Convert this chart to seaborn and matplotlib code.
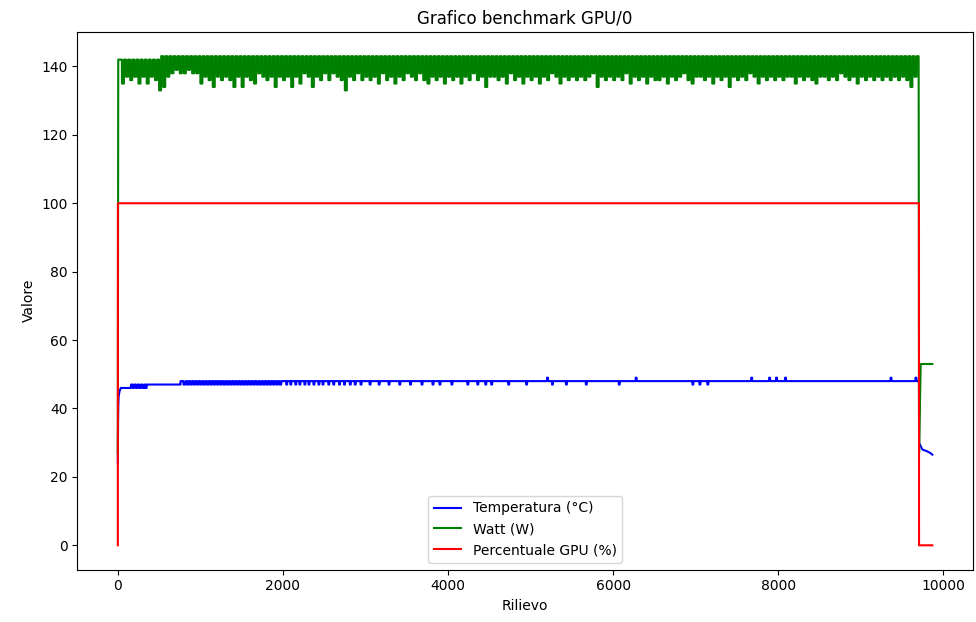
import numpy as np
import pandas as pd
import matplotlib
matplotlib.use('Agg')
import matplotlib.pyplot as plt
import seaborn as sns

plt.rcParams['path.simplify'] = False

n_rilievi = 9867
fine_test = 9705

# --- Temperatura (°C) ---
# salita iniziale (rilievo, valore)
temp_salita_x = [0, 3, 6, 10, 20, 36]
temp_salita = [24, 36, 41, 43.5, 45, 46]
# tratti costanti: inizio, fine, valore
temp_tratti_inizio = [36, 310, 335, 350, 760, 795, 2000]
temp_tratti_fine = [160, 335, 350, 760, 795, 820, 9705]
temp_tratti_val = [46, 47, 46, 47, 48, 47, 48]
# bande oscillanti, un valore ogni 20 rilievi
temp_banda1 = [47, 46, 47, 46, 47, 46, 47, 46]  # da 160
temp_banda2 = [48, 47, 48, 47, 48, 47, 48, 47, 48, 47,
               48, 47, 48, 47, 48, 47, 48, 47, 48, 47,
               48, 47, 48, 47, 48, 47, 48, 47, 48, 47,
               48, 47, 48, 47, 48, 47, 48, 47, 48, 47,
               48, 47, 48, 47, 48, 47, 48, 47, 48, 47,
               48, 47, 48, 47, 48, 47, 48, 47, 48]  # da 820
# cali a 47 e picchi a 49
temp_cali = [2040, 2090, 2150, 2200, 2260, 2310, 2370, 2430, 2480, 2550,
             2610, 2680, 2740, 2810, 2870, 2940, 3050, 3160, 3280, 3410,
             3540, 3679, 3812, 3896, 4041, 4234, 4355, 4451, 4523, 4729,
             4946, 5259, 5428, 5669, 6068, 6960, 7045, 7141]
temp_picchi = [5199, 6273, 7672, 7889, 7973, 8082, 9360, 9662]
# coda dopo il test
temp_coda_x = [9705, 9745, 9800, 9840, 9866]
temp_coda = [30, 28, 27.5, 27, 26.5]

# --- Watt (W) ---
watt_inizio_x = [0, 1, 5]
watt_inizio = [27, 53, 142]
# un valore ogni 25 rilievi, da 25 a 9699
watt = [
    142, 135, 142, 137, 142, 136, 142, 137, 142, 135, 142, 137, 142, 135, 142, 137, 142, 136, 142, 133,
    143, 134, 143, 137, 143, 138, 143, 139, 143, 138, 143, 138, 143, 139, 143, 138, 143, 138, 143, 135,
    143, 137, 143, 136, 143, 134, 143, 137, 143, 136, 143, 137, 143, 136, 143, 134, 143, 137, 143, 134,
    143, 137, 143, 136, 143, 135, 143, 138, 143, 137, 143, 136, 143, 137, 143, 134, 143, 137, 143, 136,
    143, 137, 143, 134, 143, 137, 143, 135, 143, 138, 143, 137, 143, 134, 143, 137, 143, 136, 143, 138,
    143, 136, 143, 138, 143, 137, 143, 136, 143, 133, 143, 137, 143, 136, 143, 138, 143, 136, 143, 137,
    143, 136, 143, 137, 143, 135, 143, 138, 143, 136, 143, 137, 143, 135, 143, 137, 143, 136, 143, 138,
    143, 137, 143, 136, 143, 138, 143, 136, 143, 135, 143, 137, 143, 136, 143, 137, 143, 135, 143, 137,
    143, 136, 143, 137, 143, 135, 143, 137, 143, 136, 143, 138, 143, 136, 143, 137, 143, 134, 143, 137,
    143, 137, 143, 136, 143, 137, 143, 135, 143, 138, 143, 136, 143, 137, 143, 135, 143, 137, 143, 136,
    143, 137, 143, 135, 143, 137, 143, 136, 143, 138, 143, 137, 143, 135, 143, 137, 143, 136, 143, 137,
    143, 136, 143, 137, 143, 136, 143, 137, 143, 138, 143, 134, 143, 137, 143, 136, 143, 137, 143, 136,
    143, 137, 143, 136, 143, 138, 143, 135, 143, 137, 143, 136, 143, 137, 143, 135, 143, 137, 143, 136,
    143, 136, 143, 137, 143, 135, 143, 137, 143, 136, 143, 137, 143, 138, 143, 136, 143, 135, 143, 137,
    143, 137, 143, 136, 143, 137, 143, 135, 143, 137, 143, 136, 143, 137, 143, 134, 143, 137, 143, 136,
    143, 137, 143, 136, 143, 138, 143, 137, 143, 135, 143, 137, 143, 136, 143, 137, 143, 136, 143, 137,
    143, 136, 143, 137, 143, 137, 143, 135, 143, 137, 143, 136, 143, 137, 143, 136, 143, 135, 143, 137,
    143, 137, 143, 136, 143, 137, 143, 136, 143, 138, 143, 137, 143, 136, 143, 137, 143, 135, 143, 137,
    143, 136, 143, 137, 143, 136, 143, 137, 143, 136, 143, 137, 143, 136, 143, 137, 143, 136, 143, 137,
    143, 136, 143, 134, 143, 137, 143,
]
watt_fine_x = [9700, 9705, 9725, 9866]
watt_fine = [142, 27, 53, 53]

# --- Percentuale GPU (%) ---
gpu_x = [0, 1, 9704, 9705, 9866]
gpu = [0, 100, 100, 0, 0]

# costruzione serie
temp = np.full(n_rilievi, np.nan)
temp[temp_salita_x] = temp_salita
for a, b, v in zip(temp_tratti_inizio, temp_tratti_fine, temp_tratti_val):
    temp[a:b] = v
temp[160:160 + 20 * len(temp_banda1)] = np.repeat(temp_banda1, 20)
temp[820:820 + 20 * len(temp_banda2)] = np.repeat(temp_banda2, 20)
for c in temp_cali:
    temp[c:c + 12] = 47
for p in temp_picchi:
    temp[p:p + 12] = 49
temp[temp_coda_x] = temp_coda

# ogni lettura di watt tenuta per 25 rilievi
w = np.full(n_rilievi, np.nan)
w[watt_inizio_x] = watt_inizio
w[25:25 + 25 * len(watt)] = np.repeat(watt, 25)
w[watt_fine_x] = watt_fine

g = np.full(n_rilievi, np.nan)
g[gpu_x] = gpu

df = pd.DataFrame({'Rilievo': np.arange(n_rilievi), 'temp': temp, 'watt': w, 'gpu': g})

fig, ax = plt.subplots(figsize=(9.76, 6.22), dpi=100)
d = df.dropna(subset=['temp'])
sns.lineplot(x=d['Rilievo'], y=d['temp'], color='blue', label='Temperatura (°C)', ax=ax)
d = df.dropna(subset=['watt'])
sns.lineplot(x=d['Rilievo'], y=d['watt'], color='green', label='Watt (W)', ax=ax)
d = df.dropna(subset=['gpu'])
sns.lineplot(x=d['Rilievo'], y=d['gpu'], color='red', label='Percentuale GPU (%)', ax=ax)

# niente aggancio ai pixel, così la banda densa resta piena
for line in ax.lines:
    line.set_snap(False)

ax.set_title('Grafico benchmark GPU/0')
ax.set_xlabel('Rilievo')
ax.set_ylabel('Valore')
ax.legend(loc='lower center')

plt.subplots_adjust(left=0.079, right=0.997, top=0.949, bottom=0.084)
plt.savefig('out.png', dpi=100)
